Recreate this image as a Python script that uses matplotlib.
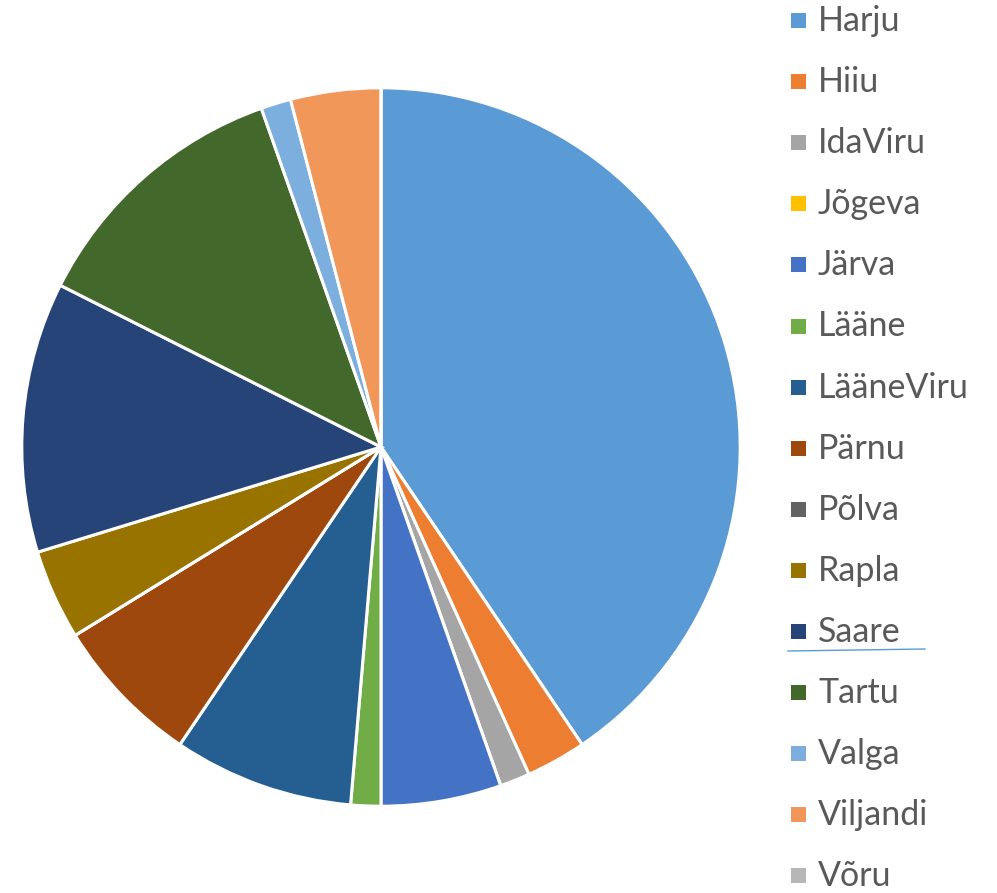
import matplotlib
matplotlib.use("Agg")
import matplotlib.pyplot as plt
from matplotlib.patches import Rectangle
from matplotlib.lines import Line2D

# county counts
COUNTIES = ["Harju", "Hiiu", "IdaViru", "Jõgeva", "Järva", "Lääne", "LääneViru",
            "Pärnu", "Põlva", "Rapla", "Saare", "Tartu", "Valga", "Viljandi", "Võru"]
COUNTS = [30, 2, 1, 0, 4, 1, 6, 5, 0, 3, 9, 9, 1, 3, 0]
COLOURS = ["#5B9BD5", "#ED7D31", "#A5A5A5", "#FFC000", "#4472C4", "#70AD47",
           "#255E91", "#9E480E", "#636363", "#997300", "#264478", "#43682B",
           "#7CAFDD", "#F1975A", "#B7B7B7"]

W, H = 997, 893
fig = plt.figure(figsize=(W / 100, H / 100), dpi=100)
fig.patch.set_facecolor("white")

cx, cy, r = 381, 447, 361
ax = fig.add_axes([(cx - r) / W, (H - cy - r) / H, 2 * r / W, 2 * r / H])
ax.pie(COUNTS, colors=COLOURS, startangle=90, counterclock=False, radius=1,
       wedgeprops=dict(edgecolor="white", linewidth=2.2))
ax.set_xlim(-1.005, 1.005)
ax.set_ylim(-1.005, 1.005)
ax.set_aspect("equal")
ax.axis("off")

# manual legend, one row every ~61 px
y0, step = 21, 61.1
for i, (name, col) in enumerate(zip(COUNTIES, COLOURS)):
    y = y0 + i * step
    fig.patches.append(Rectangle(((791) / W, (H - y - 7) / H), 15 / W, 15 / H,
                                 transform=fig.transFigure, facecolor=col,
                                 edgecolor="none"))
    fig.text(818 / W, (H - y) / H, name, fontsize=24.5, family="Lato",
             color="#595959", va="center", ha="left")

# stray underline below "Saare"
fig.add_artist(Line2D([788 / W, 925 / W], [(H - 651) / H, (H - 649) / H],
                      transform=fig.transFigure, color="#5B9BD5", linewidth=1.0))

fig.savefig("out.png", dpi=100, facecolor="white")
